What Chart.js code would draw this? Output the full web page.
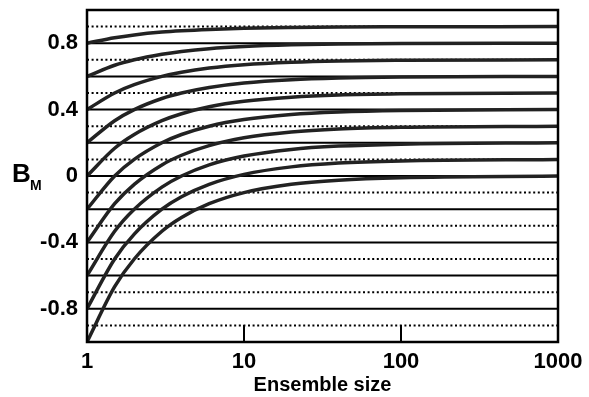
<!DOCTYPE html>
<html lang="en">
<head>
    <meta charset="UTF-8">
    <title>B_M versus ensemble size</title>
    <script src="https://cdn.jsdelivr.net/npm/chart.js"></script>
    <style>
        html, body { margin: 0; padding: 0; background: #fff; }
        .box { width: 589px; height: 397px; }
    </style>
</head>
<body>
<div class="box">
    <canvas id="bmChart" width="589" height="397"></canvas>
</div>
<script>
    // ensemble sizes where the curves were read
    var sizes = [1, 1.5, 2, 3, 4, 6, 10, 20, 40, 100, 1000];

    // one curve per limit value (0.9 down to 0.0)
    var curve09 = [0.8, 0.833, 0.85, 0.867, 0.875, 0.883, 0.89, 0.895, 0.898, 0.899, 0.9];
    var curve08 = [0.6, 0.667, 0.7, 0.733, 0.75, 0.767, 0.78, 0.79, 0.795, 0.798, 0.8];
    var curve07 = [0.4, 0.5, 0.55, 0.6, 0.625, 0.65, 0.67, 0.685, 0.693, 0.697, 0.7];
    var curve06 = [0.2, 0.333, 0.4, 0.467, 0.5, 0.533, 0.56, 0.58, 0.59, 0.596, 0.6];
    var curve05 = [0, 0.167, 0.25, 0.333, 0.375, 0.417, 0.45, 0.475, 0.488, 0.495, 0.5];
    var curve04 = [-0.2, 0, 0.1, 0.2, 0.25, 0.3, 0.34, 0.37, 0.385, 0.394, 0.4];
    var curve03 = [-0.4, -0.167, -0.05, 0.067, 0.125, 0.183, 0.23, 0.265, 0.283, 0.293, 0.3];
    var curve02 = [-0.6, -0.333, -0.2, -0.067, 0, 0.067, 0.12, 0.16, 0.18, 0.192, 0.2];
    var curve01 = [-0.8, -0.5, -0.35, -0.2, -0.125, -0.05, 0.01, 0.055, 0.078, 0.091, 0.1];
    var curve00 = [-1, -0.667, -0.5, -0.333, -0.25, -0.167, -0.1, -0.05, -0.025, -0.01, 0];

    // horizontal reference levels
    var solidLevels = [-0.8, -0.6, -0.4, -0.2, 0, 0.2, 0.4, 0.6, 0.8];
    var dottedLevels = [-0.9, -0.7, -0.5, -0.3, -0.1, 0.1, 0.3, 0.5, 0.7, 0.9];

    var xTickLabels = [1, 10, 100, 1000];
    var yTickLabels = [-0.8, -0.4, 0, 0.4, 0.8];

    var FONT = "'Liberation Sans', Arial, Helvetica, sans-serif";

    var datasets = [];

    solidLevels.forEach(function (v) {
        datasets.push({
            data: [{ x: 1, y: v }, { x: 1000, y: v }],
            borderColor: '#000',
            borderWidth: 2,
            pointRadius: 0,
            showLine: true,
            order: 3
        });
    });

    dottedLevels.forEach(function (v) {
        datasets.push({
            data: [{ x: 1, y: v }, { x: 1000, y: v }],
            borderColor: '#000',
            borderWidth: 2,
            borderDash: [2, 2.6],
            pointRadius: 0,
            showLine: true,
            order: 3
        });
    });

    [curve09, curve08, curve07, curve06, curve05, curve04, curve03, curve02, curve01, curve00].forEach(function (vals) {
        datasets.push({
            data: sizes.map(function (m, i) { return { x: m, y: vals[i] }; }),
            borderColor: '#222',
            borderWidth: 3.5,
            pointRadius: 0,
            showLine: true,
            cubicInterpolationMode: 'monotone',
            order: 1
        });
    });

    // frame, inward x ticks and the B_M axis label
    var framePlugin = {
        id: 'frame',
        afterDatasetsDraw: function (chart) {
            var ctx = chart.ctx;
            var a = chart.chartArea;
            var xs = chart.scales.x;
            ctx.save();
            ctx.strokeStyle = '#000';
            ctx.lineWidth = 2.5;
            ctx.strokeRect(a.left, a.top, a.right - a.left, a.bottom - a.top);

            ctx.lineWidth = 2;
            [10, 100].forEach(function (v) {
                var px = xs.getPixelForValue(v);
                ctx.beginPath();
                ctx.moveTo(px, a.bottom);
                ctx.lineTo(px, a.bottom - 17);
                ctx.stroke();
            });

            ctx.fillStyle = '#000';
            ctx.textBaseline = 'alphabetic';
            ctx.textAlign = 'left';
            ctx.font = 'bold 26px ' + FONT;
            ctx.fillText('B', 12, 182);
            ctx.font = 'bold 14px ' + FONT;
            ctx.fillText('M', 30, 190);
            ctx.restore();
        }
    };

    new Chart(document.getElementById('bmChart'), {
        type: 'scatter',
        data: { datasets: datasets },
        options: {
            responsive: false,
            animation: false,
            layout: { padding: { top: 10, right: 31, left: 0, bottom: 0 } },
            plugins: {
                legend: { display: false },
                tooltip: { enabled: false }
            },
            scales: {
                x: {
                    type: 'logarithmic',
                    min: 1,
                    max: 1000,
                    grid: { display: false, drawTicks: false },
                    border: { display: false },
                    title: {
                        display: true,
                        text: 'Ensemble size',
                        color: '#000',
                        font: { family: FONT, size: 20, weight: 'bold' },
                        padding: { top: 2, bottom: 0 }
                    },
                    ticks: {
                        autoSkip: false,
                        maxRotation: 0,
                        padding: 7,
                        color: '#000',
                        font: { family: FONT, size: 22, weight: 'bold' },
                        callback: function (v) {
                            return xTickLabels.indexOf(v) >= 0 ? String(v) : '';
                        }
                    },
                    afterFit: function (scale) {
                        scale.height = 55;
                        scale.paddingLeft = 0;
                        scale.paddingRight = 0;
                    }
                },
                y: {
                    min: -1,
                    max: 1,
                    grid: { display: false, drawTicks: false },
                    border: { display: false },
                    ticks: {
                        stepSize: 0.2,
                        padding: 9,
                        color: '#000',
                        font: { family: FONT, size: 22, weight: 'bold' },
                        callback: function (v) {
                            var r = Math.round(v * 10) / 10;
                            return yTickLabels.indexOf(r) >= 0 ? String(r) : '';
                        }
                    },
                    afterFit: function (scale) {
                        scale.width = 87;
                        scale.paddingTop = 0;
                        scale.paddingBottom = 0;
                    }
                }
            }
        },
        plugins: [framePlugin]
    });
</script>
</body>
</html>
